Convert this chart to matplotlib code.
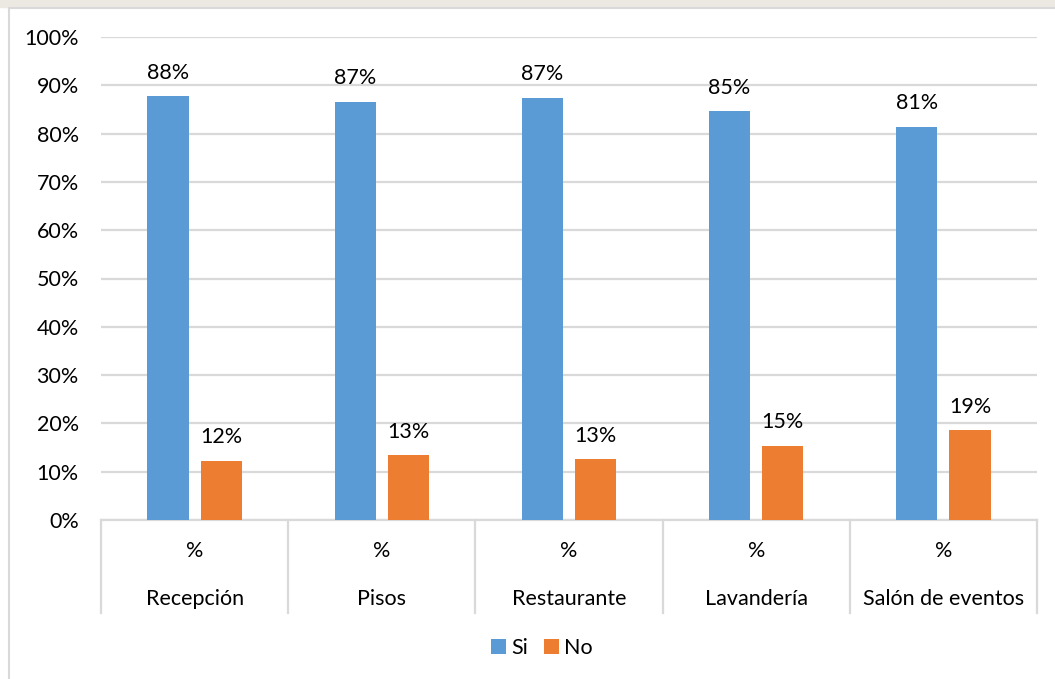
import matplotlib.pyplot as plt
from matplotlib.lines import Line2D
from matplotlib.patches import Rectangle
import numpy as np

# Data
areas = ['Recepción', 'Pisos', 'Restaurante', 'Lavandería', 'Salón de eventos']
unit_labels = ['%', '%', '%', '%', '%']
si = [0.877, 0.866, 0.874, 0.846, 0.814]
no = [0.123, 0.134, 0.126, 0.154, 0.186]
series_names = ['Si', 'No']
y_ticks = [0.0, 0.1, 0.2, 0.3, 0.4, 0.5, 0.6, 0.7, 0.8, 0.9, 1.0]

blue = '#5b9bd5'
orange = '#ed7d31'
grid_col = '#d9d9d9'
fs = 15.5

plt.rcParams['font.family'] = ['Lato', 'DejaVu Sans']

fig = plt.figure(figsize=(10.55, 6.79), dpi=100)
ax = fig.add_axes([101 / 1055, 1 - 520 / 679, 936 / 1055, 483 / 679])

x = np.arange(len(areas))
bar_width = 0.22
offset = 0.142

b1 = ax.bar(x - offset, si, bar_width, color=blue, label=series_names[0], zorder=3)
b2 = ax.bar(x + offset, no, bar_width, color=orange, label=series_names[1], zorder=3)

# Value labels above each bar
for bars, vals in ((b1, si), (b2, no)):
    for rect, v in zip(bars, vals):
        ax.annotate('{:.0%}'.format(v), (rect.get_x() + rect.get_width() / 2, v),
                    xytext=(0, 12.5), textcoords='offset points',
                    ha='center', va='baseline', fontsize=fs, color='#000000')

ax.set_xlim(-0.5, len(areas) - 0.5)
ax.set_ylim(0, 1)
ax.set_yticks(y_ticks)
ax.set_yticklabels(['{:.0%}'.format(t) for t in y_ticks])
ax.tick_params(axis='y', length=0, pad=16, labelsize=fs)
ax.set_xticks([])
ax.grid(axis='y', color=grid_col, linewidth=1.6, zorder=0)
for s in ax.spines.values():
    s.set_visible(False)

# Two-level category axis
trans = ax.get_xaxis_transform()
sep_bottom = -(613 - 520) / 483
ax.plot([-0.5, len(areas) - 0.5], [0, 0], transform=trans, color=grid_col,
        linewidth=1.6, clip_on=False, zorder=2)
for b in np.arange(len(areas) + 1) - 0.5:
    ax.plot([b, b], [0, sep_bottom], transform=trans, color=grid_col,
            linewidth=1.6, clip_on=False)
for i, (u, name) in enumerate(zip(unit_labels, areas)):
    ax.text(i, -(551 - 520) / 483, u, transform=trans, ha='center', va='center',
            fontsize=fs)
    ax.text(i, -(599 - 520) / 483, name, transform=trans, ha='center', va='center',
            fontsize=fs)

# Legend
fig.legend(handles=[b1, b2], loc='center', bbox_to_anchor=(542 / 1055, 1 - 648 / 679),
           ncol=2, frameon=False, fontsize=fs, handlelength=0.7, handleheight=0.7,
           handletextpad=0.25, columnspacing=0.7)

# Chart frame and strip above it
fig.add_artist(Rectangle((0, 1 - 7 / 679), 1, 7 / 679, transform=fig.transFigure,
                         color='#ebe9e2', zorder=0))
fig.add_artist(Line2D([8.5 / 1055, 8.5 / 1055], [0, 1 - 7.5 / 679],
                      transform=fig.transFigure, color=grid_col, linewidth=1.5))
fig.add_artist(Line2D([8.5 / 1055, 1], [1 - 7.5 / 679, 1 - 7.5 / 679],
                      transform=fig.transFigure, color=grid_col, linewidth=1.5))

fig.savefig('out.png', dpi=100)
